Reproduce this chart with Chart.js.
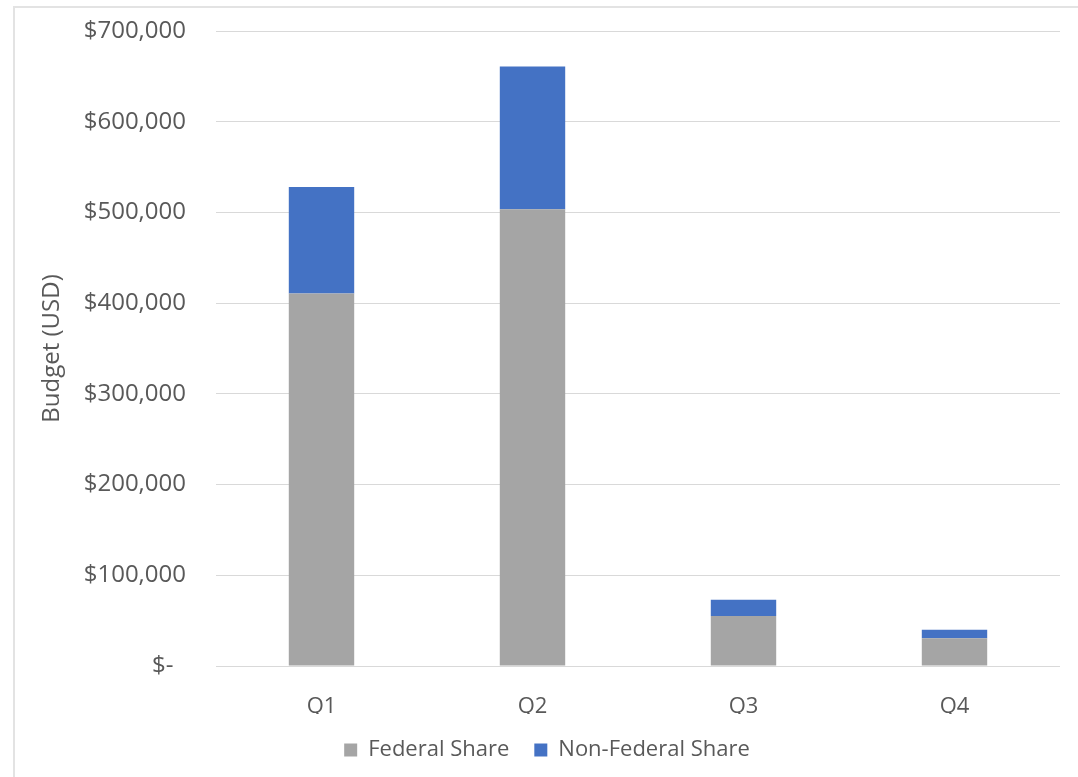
<!DOCTYPE html>
<html>
<head>
<meta charset="utf-8">
<title>Budget by Quarter</title>
<script src="https://cdn.jsdelivr.net/npm/chart.js@4/dist/chart.umd.min.js"></script>
<style>
  html, body { margin: 0; padding: 0; background: #fff; }
  #wrap { position: relative; width: 1078px; height: 777px; }
  #frame {
    position: absolute; left: 13px; top: 6px; right: 0; bottom: 0;
    border-top: 2px solid #e3e3e3; border-left: 2px solid #e3e3e3;
    pointer-events: none;
  }
</style>
</head>
<body>
<div id="wrap">
  <canvas id="budgetChart" width="1078" height="777"></canvas>
  <div id="frame"></div>
</div>
<script>
// Dati del grafico
var quarters = ['Q1', 'Q2', 'Q3', 'Q4'];
var federalShare = [410500, 503500, 55000, 30500];
var nonFederalShare = [117500, 157500, 18000, 9500];
var yTicks = [0, 100000, 200000, 300000, 400000, 500000, 600000, 700000];

var textColor = '#595959';
var fontFamily = '"Open Sans", "Liberation Sans", sans-serif';

// Formatta i valori come valuta (stile contabile)
function formatBudget(value) {
  if (value === 0) return '$-  ';
  return '$' + value.toLocaleString('en-US');
}

document.addEventListener('DOMContentLoaded', function() {
  var ctx = document.getElementById('budgetChart').getContext('2d');
  new Chart(ctx, {
    type: 'bar',
    data: {
      labels: quarters,
      datasets: [{
        label: 'Federal Share',
        data: federalShare,
        backgroundColor: '#a5a5a5',
        barPercentage: 0.31,
        categoryPercentage: 1
      }, {
        label: 'Non-Federal Share',
        data: nonFederalShare,
        backgroundColor: '#4472c4',
        barPercentage: 0.31,
        categoryPercentage: 1
      }]
    },
    options: {
      responsive: false,
      animation: false,
      layout: { padding: { left: 34, top: 31, right: 18, bottom: 6 } },
      plugins: {
        tooltip: { enabled: false },
        legend: {
          position: 'bottom',
          labels: {
            boxWidth: 13,
            boxHeight: 13,
            padding: 25,
            color: textColor,
            font: { family: fontFamily, size: 22 }
          }
        }
      },
      scales: {
        x: {
          stacked: true,
          grid: { display: false },
          border: { display: false },
          ticks: {
            color: textColor,
            padding: 20,
            font: { family: fontFamily, size: 22 }
          },
          afterFit: function(scale) { scale.height = 48; }
        },
        y: {
          stacked: true,
          min: 0,
          max: 700000,
          afterBuildTicks: function(scale) {
            scale.ticks = yTicks.map(function(v) { return { value: v }; });
          },
          grid: { color: '#d9d9d9', lineWidth: 1, drawTicks: false },
          border: { display: false },
          ticks: {
            color: textColor,
            padding: 30,
            font: { family: fontFamily, size: 24 },
            callback: function(value) { return formatBudget(value); }
          },
          title: {
            display: true,
            text: 'Budget (USD)',
            color: textColor,
            font: { family: fontFamily, size: 24 }
          },
          // larghezza fissa e nessun margine verticale extra per le etichette
          afterFit: function(scale) {
            scale.width = 182;
            scale.paddingTop = 0;
            scale.paddingBottom = 0;
          }
        }
      }
    }
  });
});
</script>
</body>
</html>
